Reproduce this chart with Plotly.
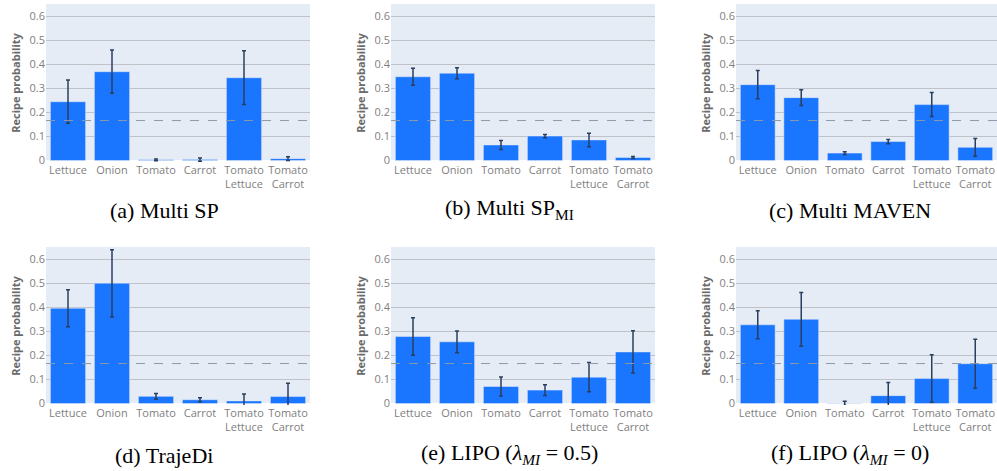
import plotly.graph_objects as go

categories = ["Lettuce", "Onion", "Tomato", "Carrot", "Tomato<br>Lettuce", "Tomato<br>Carrot"]

captions = [
    "(a) Multi SP",
    "(b) Multi SP<sub>MI</sub>",
    "(c) Multi MAVEN",
    "(d) TrajeDi",
    "(e) LIPO (<i>λ<sub>MI</sub></i> = 0.5)",
    "(f) LIPO (<i>λ<sub>MI</sub></i> = 0)",
]

multi_sp = [0.245, 0.370, 0.003, 0.004, 0.345, 0.008]
multi_sp_err = [0.090, 0.090, 0.004, 0.007, 0.112, 0.008]

multi_sp_mi = [0.349, 0.364, 0.065, 0.102, 0.086, 0.013]
multi_sp_mi_err = [0.035, 0.023, 0.019, 0.007, 0.028, 0.004]

multi_maven = [0.316, 0.262, 0.031, 0.079, 0.233, 0.055]
multi_maven_err = [0.059, 0.033, 0.006, 0.009, 0.050, 0.037]

trajedi = [0.397, 0.501, 0.030, 0.016, 0.011, 0.029]
trajedi_err = [0.077, 0.140, 0.012, 0.008, 0.029, 0.056]

lipo_05 = [0.279, 0.257, 0.071, 0.056, 0.110, 0.215]
lipo_05_err = [0.078, 0.045, 0.040, 0.022, 0.061, 0.088]

lipo_0 = [0.328, 0.351, 0.001, 0.033, 0.104, 0.166]
lipo_0_err = [0.058, 0.112, 0.009, 0.055, 0.099, 0.102]

uniform = 1 / 6

series = [
    (multi_sp, multi_sp_err),
    (multi_sp_mi, multi_sp_mi_err),
    (multi_maven, multi_maven_err),
    (trajedi, trajedi_err),
    (lipo_05, lipo_05_err),
    (lipo_0, lipo_0_err),
]

W, H = 997, 471
col_x = [(46, 310), (391, 655), (736, 997)]
row_y = [(4, 162), (247, 405)]
caption_x = [164, 509, 850]
caption_bottom = [225, 470]

BAR = "#1a75ff"
TICK_FONT = dict(family="Open Sans", size=11, color="#808080")
TITLE_FONT = dict(family="Open Sans", size=11, color="#6a6a6a")

fig = go.Figure()
layout = {}
for i, (vals, errs) in enumerate(series):
    r, c = divmod(i, 3)
    n = i + 1
    xa = "x" if n == 1 else f"x{n}"
    ya = "y" if n == 1 else f"y{n}"
    fig.add_trace(go.Bar(
        x=categories, y=vals, xaxis=xa, yaxis=ya,
        marker=dict(color=BAR, line=dict(color="#E5ECF6", width=0.5)),
        error_y=dict(type="data", array=errs, visible=True,
                     color="#2a3f5f", thickness=1.5, width=2),
        showlegend=False,
    ))
    x0, x1 = col_x[c]
    y0, y1 = row_y[r]
    key = "" if n == 1 else str(n)
    layout[f"xaxis{key}"] = dict(
        domain=[x0 / W, x1 / W], anchor=ya, tickfont=TICK_FONT,
        showgrid=False, automargin=False, ticks="", fixedrange=True,
    )
    layout[f"yaxis{key}"] = dict(
        domain=[1 - y1 / H, 1 - y0 / H], anchor=xa, range=[-0.006, 0.652],
        dtick=0.1, tick0=0, tickfont=TICK_FONT, automargin=False,
        gridcolor="#bfc2c8", gridwidth=1.2, zeroline=True,
        zerolinecolor="#ffffff", zerolinewidth=2,
        title=dict(text="<b>Recipe probability</b>", font=TITLE_FONT, standoff=6),
    )
    fig.add_shape(type="line", xref=f"{xa} domain", yref=ya,
                  x0=0, x1=1, y0=uniform, y1=uniform,
                  line=dict(color="#8e98aa", width=1, dash="dash"))
    fig.add_annotation(text=captions[i], x=caption_x[c] / W, y=1 - caption_bottom[r] / H,
                       xref="paper", yref="paper", showarrow=False,
                       xanchor="center", yanchor="bottom",
                       font=dict(family="Liberation Serif", size=22, color="#000000"))

fig.update_layout(
    width=W, height=H, margin=dict(l=0, r=0, t=0, b=0),
    template="plotly", paper_bgcolor="white", plot_bgcolor="#E5ECF6",
    bargap=0.2,
    **layout,
)

fig.write_html("out.html")
